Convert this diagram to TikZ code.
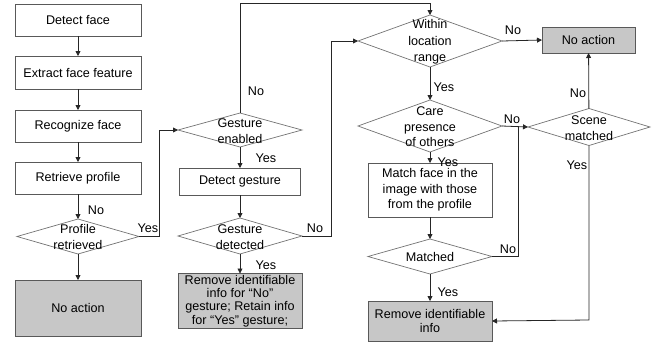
\documentclass[tikz,border=0pt]{standalone}
\usepackage{fontspec}
\setmainfont{Liberation Sans}
\usetikzlibrary{arrows.meta,shapes.geometric}
\begin{document}
\begin{tikzpicture}[x=1pt,y=-1pt,
  every node/.style={font=\fontsize{12.6}{15.5}\selectfont},
  box/.style={draw=black!65, line width=0.7pt, rectangle, inner sep=0pt, outer sep=0pt, align=center},
  act/.style={box, fill=black!22},
  dia/.style={draw=black!55, line width=0.7pt, diamond, inner sep=0pt, outer sep=0pt},
  dtext/.style={align=center, inner sep=0pt},
  lab/.style={inner sep=0pt},
  conn/.style={draw=black!85, line width=0.8pt, -{Triangle[length=5pt,width=5pt]}},
  plain/.style={draw=black!85, line width=0.8pt}]
\useasboundingbox (0,0) rectangle (659,346);
% left column
\node[box, minimum width=126pt, minimum height=32pt] (b1) at (78,20) {Detect face};
\node[box, minimum width=126pt, minimum height=33pt] (b2) at (78,72.5) {Extract face feature};
\node[box, minimum width=126pt, minimum height=32pt] (b3) at (78,126) {Recognize face};
\node[box, minimum width=126pt, minimum height=32pt] (b4) at (78,178) {Retrieve profile};
\node[dia, minimum width=122pt, minimum height=35pt] (d1) at (78,236.5) {};
\node[dtext] (d1t) at (78,237) {Profile\\retrieved};
\node[act, minimum width=126pt, minimum height=56pt] (n1) at (78,308) {No action};
% gesture column
\node[dia, minimum width=124pt, minimum height=34pt] (d2) at (240,130) {};
\node[dtext] (d2t) at (240,131) {Gesture\\enabled};
\node[box, minimum width=121pt, minimum height=27pt] (b5) at (240,181.5) {Detect gesture};
\node[dia, minimum width=124pt, minimum height=36pt] (d3) at (240,236) {};
\node[dtext] (d3t) at (240,237) {Gesture\\detected};
\node[act, minimum width=124pt, minimum height=55pt, font=\fontsize{12.6}{13.2}\selectfont] (r1) at (240,301) {Remove identifiable\\info for “No”\\gesture; Retain info\\for “Yes” gesture;};
% right column
\node[dia, minimum width=144pt, minimum height=52pt] (d4) at (430,41) {};
\node[dtext, font=\fontsize{12.6}{16.5}\selectfont] (d4t) at (430,42) {Within\\location\\range};
\node[dia, minimum width=144pt, minimum height=52pt] (d5) at (430,126) {};
\node[dtext] (d5t) at (430,127) {Care\\presence\\of others};
\node[box, minimum width=124pt, minimum height=54pt] (b6) at (430,190) {Match face in the\\image with those\\from the profile};
\node[dia, minimum width=124pt, minimum height=35pt] (d6) at (430,256.5) {};
\node[dtext] (d6t) at (430,257) {Matched};
\node[act, minimum width=124pt, minimum height=40pt, font=\fontsize{12.6}{14}\selectfont] (r2) at (430,321) {Remove identifiable\\info};
\node[act, minimum width=93pt, minimum height=26pt] (n2) at (588.5,40) {No action};
\node[dia, minimum width=122pt, minimum height=37pt] (d7) at (589,127) {};
\node[dtext] (d7t) at (589,128) {Scene\\matched};
% coordinates
\coordinate (c1) at (159,236.5);
\coordinate (c2) at (159,130);
\coordinate (c3) at (240,3.5);
\coordinate (c4) at (430,3.5);
\coordinate (c5) at (331,236);
\coordinate (c6) at (331,41);
\coordinate (c7) at (518,256.5);
\coordinate (c8) at (518,127);
\coordinate (c9) at (589,320);
% connectors
\draw[conn] (b1) -- (b2);
\draw[conn] (b2) -- (b3);
\draw[conn] (b3) -- (b4);
\draw[conn] (b4) -- (d1);
\draw[conn] (d1) -- (n1);
\draw[conn] (d1.east) -- (c1) -- (c2) -- (d2.west);
\draw[conn] (d2.north) -- (c3) -- (c4) -- (d4.north);
\draw[conn] (d2) -- (b5);
\draw[conn] (b5) -- (d3);
\draw[conn] (d3.east) -- (c5) -- (c6) -- (d4.west);
\draw[conn] (d3) -- (r1);
\draw[conn] (d4.east) -- (n2.west);
\draw[conn] (d4) -- (d5);
\draw[conn] (d5.east) -- (d7.west);
\draw[conn] (d5) -- (b6);
\draw[conn] (b6) -- (d6);
\draw[plain] (d6.east) -- (c7) -- (c8);
\draw[conn] (d6) -- (r2);
\draw[conn] (d7) -- (n2);
\draw[conn] (d7.south) -- (c9) -- (r2.east);
% labels
\node[lab] (l1) at (96,210) {No};
\node[lab] (l2) at (148,228) {Yes};
\node[lab] (l3) at (256,91) {No};
\node[lab] (l4) at (266,158) {Yes};
\node[lab] (l5) at (315,228) {No};
\node[lab] (l6) at (266,265) {Yes};
\node[lab] (l7) at (513,30) {No};
\node[lab] (l8) at (444,87) {Yes};
\node[lab] (l9) at (512,119) {No};
\node[lab] (l10) at (448,162) {Yes};
\node[lab] (l11) at (508,249) {No};
\node[lab] (l12) at (448,292) {Yes};
\node[lab] (l13) at (578,93) {No};
\node[lab] (l14) at (577,165) {Yes};
\end{tikzpicture}
\end{document}
